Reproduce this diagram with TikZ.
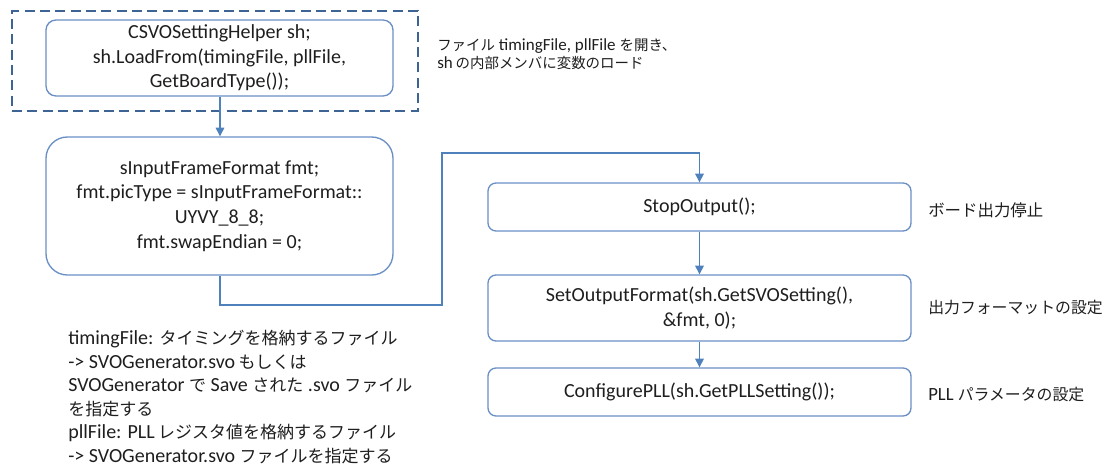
\documentclass[tikz,border=0pt]{standalone}
\usepackage{fontspec}
\setmainfont{Carlito}
\newfontfamily\jp{Noto Sans CJK JP}[Scale=0.85]
\usetikzlibrary{arrows.meta}
\definecolor{boxline}{HTML}{6A8FC4}
\definecolor{frameline}{HTML}{3E6494}
\definecolor{wire}{HTML}{4F81BD}
\definecolor{ink}{HTML}{1E1E1E}
\begin{document}
\begin{tikzpicture}[x=0.75pt,y=-0.75pt,
  codebox/.style={draw=boxline, line width=1pt, text=ink, align=center, inner sep=0pt,
    font=\fontsize{15pt}{18.4pt}\selectfont},
  note/.style={text=ink, inner sep=0pt, anchor=west, align=left},
  wireline/.style={draw=wire, line width=0.8pt},
  flow/.style={wireline, -{Triangle[width=6.5pt,length=6.5pt]}}
]
\useasboundingbox (0,0) rectangle (1106,468);

% grouping frame around the helper setup
\node[draw=frameline, line width=1.6pt, dash pattern=on 7.5pt off 4pt,
  minimum width=406*0.75pt, minimum height=100*0.75pt, inner sep=0pt] (frame) at (215,61) {};

% left column
\node[codebox, rounded corners=7.5pt, minimum width=347*0.75pt, minimum height=76*0.75pt]
  (load) at (219.5,58) {CSVOSettingHelper sh;\\sh.LoadFrom(timingFile, pllFile,\\GetBoardType());};
\node[codebox, rounded corners=16pt, minimum width=347*0.75pt, minimum height=138*0.75pt]
  (fmt) at (219.5,206) {sInputFrameFormat fmt;\\fmt.picType = sInputFrameFormat::\\UYVY\_8\_8;\\fmt.swapEndian = 0;};

% right column
\node[codebox, rounded corners=6pt, minimum width=423*0.75pt, minimum height=48*0.75pt]
  (stop) at (699.5,207) {StopOutput();};
\node[codebox, rounded corners=6pt, minimum width=423*0.75pt, minimum height=66*0.75pt]
  (setfmt) at (699.5,308) {SetOutputFormat(sh.GetSVOSetting(),\\\&fmt, 0);};
\node[codebox, rounded corners=6pt, minimum width=423*0.75pt, minimum height=48*0.75pt]
  (pll) at (699.5,392) {ConfigurePLL(sh.GetPLLSetting());};

% annotations
\node[note, font=\fontsize{12.75pt}{13.6pt}\selectfont] (noteload) at (437,54)
  {{\jp ファイル} timingFile, pllFile {\jp を開き、}\\sh\,{\jp の内部メンバに変数のロード}};
\node[note, font=\fontsize{14.5pt}{16pt}\selectfont] (notestop) at (928,210) {\jp ボード出力停止};
\node[note, font=\fontsize{14pt}{16pt}\selectfont] (notefmt) at (928,308) {\jp 出力フォーマットの設定};
\node[note, font=\fontsize{14pt}{16pt}\selectfont] (notepll) at (928,395) {PLL {\jp パラメータの設定}};
\node[note, font=\fontsize{15pt}{17.6pt}\selectfont] (noteargs) at (68,397)
  {timingFile: {\jp タイミングを格納するファイル}\\
   -> SVOGenerator.svo\,{\jp もしくは}\\
   SVOGenerator {\jp で} Save {\jp された} .svo {\jp ファイル}\\
   {\jp を指定する}\\
   pllFile: PLL\,{\jp レジスタ値を格納するファイル}\\
   -> SVOGenerator.svo {\jp ファイルを指定する}};

% connectors
\coordinate (jogA) at (220,305);
\coordinate (jogB) at (442,305);
\coordinate (jogC) at (442,153);
\draw[flow] (load.south -| 220,0) -- (fmt.north -| 220,0);
\draw[flow] (fmt.south -| 220,0) -- (jogA) -- (jogB) -- (jogC) -- (jogC -| stop.north) -- (stop.north);
\draw[flow] (stop) -- (setfmt);
\draw[flow] (setfmt) -- (pll);
\end{tikzpicture}
\end{document}
